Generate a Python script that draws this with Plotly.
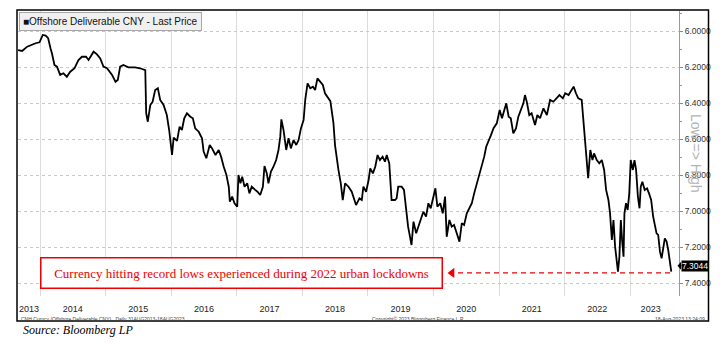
import plotly.graph_objects as go

# ---------------- data ----------------
dates = [
    "2013-08-31", "2013-09-23", "2013-10-21", "2013-11-09", "2013-12-07", "2013-12-29",
    "2014-01-16", "2014-02-01", "2014-02-15", "2014-02-28", "2014-03-08", "2014-03-22", "2014-04-05",
    "2014-04-23", "2014-05-11", "2014-05-30", "2014-06-18", "2014-07-12", "2014-08-03", "2014-08-22",
    "2014-09-14", "2014-09-28", "2014-10-26", "2014-11-14", "2014-12-02", "2014-12-20",
    "2015-01-09", "2015-02-06", "2015-02-25", "2015-03-10", "2015-03-23", "2015-04-10", "2015-05-08",
    "2015-06-14", "2015-07-12", "2015-08-10", "2015-08-12", "2015-08-15", "2015-08-24", "2015-09-07",
    "2015-09-20", "2015-10-04", "2015-10-19", "2015-11-01", "2015-11-20", "2015-12-08", "2015-12-21",
    "2016-01-06", "2016-01-15", "2016-02-03", "2016-02-17", "2016-03-01", "2016-03-14", "2016-03-29",
    "2016-04-17", "2016-05-01", "2016-05-14", "2016-06-02", "2016-06-21", "2016-06-30", "2016-07-15",
    "2016-08-03", "2016-08-16", "2016-09-04", "2016-09-22", "2016-10-05", "2016-10-20", "2016-11-04",
    "2016-11-17", "2016-11-23", "2016-12-06", "2016-12-19",
    "2017-01-03", "2017-01-10", "2017-01-21", "2017-01-31", "2017-02-13", "2017-02-28", "2017-03-12",
    "2017-03-25", "2017-04-13", "2017-04-26", "2017-05-11", "2017-05-26", "2017-06-04", "2017-06-17",
    "2017-06-26", "2017-07-10", "2017-07-24", "2017-08-08", "2017-08-21", "2017-08-31", "2017-09-06",
    "2017-09-18", "2017-10-03", "2017-10-16", "2017-10-29", "2017-11-13", "2017-11-28", "2017-12-11",
    "2017-12-24",
    "2018-01-08", "2018-01-17", "2018-01-30", "2018-02-14", "2018-03-01", "2018-03-13", "2018-03-26",
    "2018-04-10", "2018-04-25", "2018-05-07", "2018-05-26", "2018-06-06", "2018-06-23", "2018-07-02",
    "2018-07-21", "2018-08-03", "2018-08-14", "2018-08-27", "2018-09-15", "2018-10-03", "2018-10-27",
    "2018-11-15", "2018-11-28", "2018-12-07", "2018-12-22",
    "2019-01-05", "2019-01-14", "2019-01-29", "2019-02-11", "2019-02-24", "2019-03-09", "2019-03-24",
    "2019-04-06", "2019-04-16", "2019-04-30", "2019-05-13", "2019-06-01", "2019-06-10", "2019-06-19",
    "2019-07-08", "2019-07-21", "2019-08-05", "2019-08-13", "2019-08-20", "2019-09-01", "2019-09-12",
    "2019-09-27", "2019-10-09", "2019-10-22", "2019-11-06", "2019-11-21", "2019-12-04", "2019-12-17",
    "2020-01-01", "2020-01-12", "2020-01-23", "2020-02-08", "2020-02-22", "2020-03-06", "2020-03-15",
    "2020-03-30", "2020-04-12", "2020-04-25", "2020-05-10", "2020-05-25", "2020-06-07", "2020-06-20",
    "2020-07-05", "2020-07-19", "2020-08-02", "2020-08-15", "2020-08-30", "2020-09-14", "2020-09-27",
    "2020-10-10", "2020-10-21", "2020-11-03", "2020-11-16", "2020-12-01", "2020-12-19",
    "2021-01-04", "2021-01-17", "2021-01-30", "2021-02-10", "2021-02-23", "2021-03-07", "2021-03-21",
    "2021-04-05", "2021-04-18", "2021-05-01", "2021-05-16", "2021-05-25", "2021-06-04", "2021-06-18",
    "2021-07-01", "2021-07-20", "2021-08-02", "2021-08-17", "2021-09-05", "2021-09-24", "2021-10-12",
    "2021-10-30", "2021-11-18", "2021-12-03", "2021-12-22",
    "2022-01-04", "2022-01-23", "2022-02-05", "2022-02-20", "2022-03-05", "2022-03-18", "2022-04-06",
    "2022-04-15", "2022-04-24", "2022-05-03", "2022-05-12", "2022-05-24", "2022-06-05", "2022-06-14",
    "2022-06-29", "2022-07-13", "2022-07-27", "2022-08-09", "2022-08-20", "2022-09-02", "2022-09-11",
    "2022-09-21", "2022-09-30", "2022-10-09", "2022-10-18", "2022-10-25", "2022-11-02", "2022-11-10",
    "2022-11-17", "2022-11-25", "2022-11-30", "2022-12-09", "2022-12-18", "2022-12-27",
    "2023-01-04", "2023-01-16", "2023-01-25", "2023-02-03", "2023-02-13", "2023-02-22", "2023-03-01",
    "2023-03-10", "2023-03-23", "2023-04-05", "2023-04-16", "2023-04-28", "2023-05-09", "2023-05-18",
    "2023-05-28", "2023-06-06", "2023-06-16", "2023-06-25", "2023-07-04", "2023-07-13", "2023-07-23",
    "2023-08-01", "2023-08-18",
]

prices = [
    6.106, 6.111, 6.087, 6.078, 6.068, 6.063,
    6.022, 6.026, 6.040, 6.096, 6.124, 6.189, 6.198, 6.244, 6.235, 6.254, 6.226, 6.207, 6.161, 6.143,
    6.143, 6.161, 6.115, 6.130, 6.152, 6.198,
    6.207, 6.244, 6.282, 6.272, 6.198, 6.189, 6.202, 6.202, 6.207, 6.217, 6.337, 6.457, 6.504, 6.411,
    6.393, 6.328, 6.318, 6.383, 6.411, 6.467, 6.550,
    6.689, 6.592, 6.610, 6.532, 6.550, 6.485, 6.457, 6.476, 6.485, 6.541, 6.559, 6.596, 6.670, 6.707,
    6.633, 6.652, 6.689, 6.661, 6.698, 6.754, 6.800, 6.865, 6.948, 6.920, 6.957,
    6.976, 6.800, 6.846, 6.809, 6.865, 6.846, 6.902, 6.865, 6.883, 6.893, 6.911, 6.865, 6.750, 6.791,
    6.846, 6.781, 6.754, 6.717, 6.661, 6.587, 6.491, 6.550, 6.661, 6.596, 6.652, 6.606, 6.633, 6.606,
    6.541,
    6.494, 6.383, 6.291, 6.318, 6.309, 6.328, 6.263, 6.281, 6.300, 6.346, 6.374, 6.390, 6.510, 6.635,
    6.772, 6.846, 6.939, 6.846, 6.865, 6.893, 6.967, 6.930, 6.939, 6.865, 6.893,
    6.828, 6.763, 6.791, 6.754, 6.689, 6.717, 6.698, 6.726, 6.689, 6.735, 6.939, 6.939, 6.930, 6.865,
    6.865, 6.883, 7.031, 7.087, 7.124, 7.189, 7.059, 7.124, 7.087, 7.050, 7.004, 7.031, 6.957, 6.985,
    6.920, 6.874, 6.976, 6.957, 7.013, 6.920, 7.143, 7.050, 7.087, 7.078, 7.124, 7.170, 7.068, 7.078,
    7.013, 6.985, 6.957, 6.902, 6.846, 6.791, 6.754, 6.698, 6.643, 6.606, 6.580, 6.540, 6.513,
    6.439, 6.485, 6.439, 6.402, 6.476, 6.485, 6.569, 6.541, 6.476, 6.439, 6.402, 6.356, 6.393, 6.467,
    6.457, 6.522, 6.467, 6.485, 6.430, 6.467, 6.383, 6.393, 6.374, 6.356, 6.374,
    6.346, 6.356, 6.337, 6.309, 6.346, 6.374, 6.383, 6.494, 6.606, 6.698, 6.818, 6.661, 6.717, 6.680,
    6.717, 6.735, 6.717, 6.772, 6.883, 6.939, 7.013, 7.161, 7.050, 7.198, 7.272, 7.337, 7.254, 7.050,
    7.161, 7.254, 7.013, 6.957, 6.994, 6.902,
    6.717, 6.772, 6.717, 6.772, 6.920, 6.985, 6.865, 6.837, 6.883, 6.874, 6.902, 6.939, 7.031, 7.068,
    7.124, 7.133, 7.226, 7.263, 7.198, 7.152, 7.170, 7.217, 7.337,
]

year_labels = ["2013", "2014", "2015", "2016", "2017", "2018", "2019", "2020", "2021", "2022", "2023"]
year_label_dates = ["2013-10-31", "2014-07-02", "2015-07-02", "2016-07-02", "2017-07-02", "2018-07-02",
                    "2019-07-02", "2020-07-02", "2021-07-02", "2022-07-02", "2023-04-25"]

x_range = ["2013-08-31", "2023-09-30"]
y_range = [7.4722, 5.8889]          # inverted: Low => High
y_tick0, y_dtick = 6.0, 0.2

last_price = 7.3044
record_low_level = 7.344
arrow_date = "2020-04-14"
dash_start_date = "2020-05-17"

legend_text = "■Offshore Deliverable CNY - Last Price"
note_text = "Currency hitting record lows experienced during 2022 urban lockdowns"
source_text = "Source: Bloomberg LP"
footer_left = "CNH Curncy (Offshore Deliverable CNY)   Daily 31AUG2013-18AUG2023"
footer_mid = "Copyright© 2023 Bloomberg Finance L.P."
footer_right = "18-Aug-2023 13:24:09"

# ---------------- figure ----------------
SANS = "Liberation Sans, Arial, DejaVu Sans"
SERIF = "Liberation Serif, Times New Roman, serif"
RED = "#ee0000"

fig = go.Figure()

fig.add_trace(go.Scatter(
    x=dates, y=prices, mode="lines",
    line=dict(color="#000000", width=1.8),
    hoverinfo="skip", showlegend=False,
))

# dashed red line marking the record-low level, with arrow head
fig.add_trace(go.Scatter(
    x=[dash_start_date, dates[-1]], y=[record_low_level, record_low_level], mode="lines",
    line=dict(color=RED, width=1.2, dash="5px,4px"),
    hoverinfo="skip", showlegend=False,
))
fig.add_trace(go.Scatter(
    x=[arrow_date], y=[record_low_level], mode="markers",
    marker=dict(symbol="triangle-left", size=9, color=RED, line=dict(width=0)),
    hoverinfo="skip", showlegend=False,
))

# invisible trace to carry the label axis
fig.add_trace(go.Scatter(
    x=[x_range[0]], y=[y_range[0]], xaxis="x2", mode="lines",
    line=dict(width=0), hoverinfo="skip", showlegend=False,
))

L, R, T, B = 18, 46, 11, 49
W, H = 725, 345
pw, ph = W - L - R, H - T - B


def px(xpix):
    return (xpix - L) / pw


def py(ypix):
    return (H - B - ypix) / ph


fig.update_layout(
    width=W, height=H,
    margin=dict(l=L, r=R, t=T, b=B, pad=0),
    paper_bgcolor="white", plot_bgcolor="white",
    showlegend=False, hovermode=False,
    font=dict(family=SANS, color="#222"),
    xaxis=dict(
        type="date", range=x_range,
        tickmode="linear", tick0="2014-01-01", dtick="M12",
        showticklabels=False, ticks="",
        showgrid=True, gridcolor="#dcdcdc", gridwidth=1,
        zeroline=False, showline=False,
    ),
    xaxis2=dict(
        type="date", range=x_range, overlaying="x", anchor="y", side="bottom",
        tickmode="array", tickvals=year_label_dates, ticktext=year_labels,
        ticks="outside", ticklen=4, tickcolor="rgba(0,0,0,0)",
        tickfont=dict(family=SANS, size=9, color="#222"),
        showgrid=False, zeroline=False, showline=False,
    ),
    yaxis=dict(
        range=y_range, side="right",
        tickmode="linear", tick0=y_tick0, dtick=y_dtick, tickformat=".4f",
        ticks="outside", ticklen=3, tickcolor="#888",
        tickfont=dict(family=SANS, size=8.5, color="#333"),
        showline=True, linecolor="#9a9a9a", linewidth=1,
        showgrid=True, gridcolor="#c8c8c8", griddash="dot", gridwidth=1,
        zeroline=False,
        minor=dict(ticks="outside", ticklen=2, tickcolor="#999", dtick=0.1, showgrid=False),
    ),
)

shapes = [
    # outer frame
    dict(type="rect", xref="paper", yref="paper",
         x0=px(17), x1=px(708.5), y0=py(321), y1=py(10),
         line=dict(color="#000", width=1.5), fillcolor="rgba(0,0,0,0)", layer="above"),
    # pointer of last price tag
    dict(type="path", xref="paper", yref="y",
         path=f"M {px(677.5)},{last_price} L {px(681)},{last_price - 0.022} "
              f"L {px(681)},{last_price + 0.022} Z",
         fillcolor="#000", line=dict(width=0)),
    # blue underline under 'lockdowns'
    dict(type="line", xref="paper", yref="paper",
         x0=px(374), x1=px(431), y0=py(276.5), y1=py(276.5),
         line=dict(color="#8eaadb", width=2.5)),
]
fig.update_layout(shapes=shapes)

annotations = [
    dict(text=legend_text, xref="paper", yref="paper", x=px(19), y=py(12.3),
         xanchor="left", yanchor="top", showarrow=False,
         font=dict(family=SANS, size=10, color="#111"),
         bgcolor="#f0f0f0", bordercolor="#a8a8a8", borderwidth=1, borderpad=3),
    dict(text="Low => High", xref="paper", yref="paper", x=px(696), y=py(153),
         textangle=90, showarrow=False, xanchor="center", yanchor="middle",
         font=dict(family=SANS, size=14, color="#b4b4b4")),
    dict(text=f"{last_price:.4f}", xref="paper", yref="y", x=px(680.5), y=last_price,
         xanchor="left", yanchor="middle", showarrow=False,
         font=dict(family=SANS, size=8.5, color="#ffffff"),
         bgcolor="#000000", borderpad=0),
    dict(text=note_text, xref="paper", yref="paper", x=px(241.3), y=py(272.5),
         xanchor="center", yanchor="middle", showarrow=False, align="center",
         width=398, height=27,
         font=dict(family=SERIF, size=13, color=RED),
         bgcolor="white", bordercolor=RED, borderwidth=1.5, borderpad=1),
    dict(text=footer_left, xref="paper", yref="paper", x=px(19), y=py(318.5),
         xanchor="left", yanchor="middle", showarrow=False,
         font=dict(family=SANS, size=5, color="#444")),
    dict(text=footer_mid, xref="paper", yref="paper", x=px(370), y=py(318.5),
         xanchor="left", yanchor="middle", showarrow=False,
         font=dict(family=SANS, size=5, color="#444")),
    dict(text=footer_right, xref="paper", yref="paper", x=px(707), y=py(318.5),
         xanchor="right", yanchor="middle", showarrow=False,
         font=dict(family=SANS, size=5, color="#444")),
    dict(text=f"<i>{source_text}</i>", xref="paper", yref="paper", x=px(20.5), y=py(330),
         xanchor="left", yanchor="middle", showarrow=False,
         font=dict(family=SERIF, size=12, color="#000")),
]
fig.update_layout(annotations=annotations)

fig.write_html("out.html")
